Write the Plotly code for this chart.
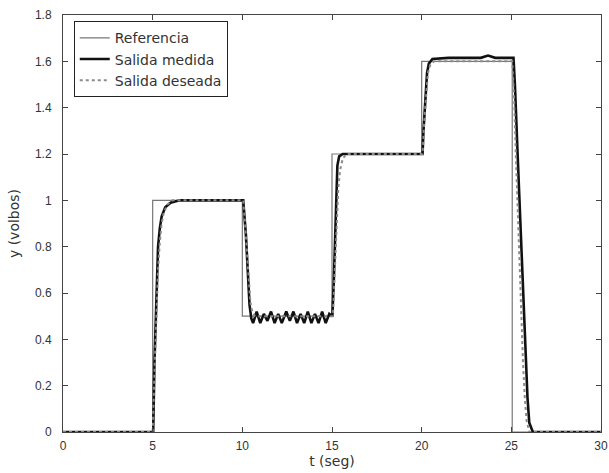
import plotly.graph_objects as go

# Referencia (step input)
t_ref = [0, 5, 5, 10, 10, 15, 15, 20, 20, 25.05, 25.05, 30]
y_ref = [0, 0, 1.0, 1.0, 0.5, 0.5, 1.2, 1.2, 1.6, 1.6, 0, 0]

# Salida medida (measured output)
t_med = [0, 5.03, 5.1, 5.2, 5.3, 5.4, 5.5, 5.7, 6.0, 6.5, 8.0, 10.05,
         10.1, 10.2, 10.3, 10.4, 10.5, 10.6,
         10.8, 11.0, 11.2, 11.4, 11.6, 11.8, 12.0, 12.2, 12.45, 12.65,
         12.85, 13.05, 13.25, 13.45, 13.65, 13.85, 14.05, 14.25, 14.45,
         14.65, 14.85, 15.02,
         15.1, 15.2, 15.3, 15.4, 15.6, 17.5, 20.05,
         20.1, 20.2, 20.3, 20.4, 20.6, 21.5, 23.3, 23.7, 24.1, 25.12,
         25.2, 25.35, 25.5, 25.6, 25.75, 25.9, 26.0, 26.2, 30]
y_med = [0, 0, 0.3, 0.6, 0.8, 0.88, 0.93, 0.97, 0.99, 1.0, 1.0, 1.0,
         0.95, 0.85, 0.7, 0.55, 0.49, 0.47,
         0.52, 0.47, 0.51, 0.48, 0.52, 0.47, 0.51, 0.47, 0.52, 0.48,
         0.52, 0.47, 0.51, 0.47, 0.52, 0.47, 0.51, 0.47, 0.52,
         0.47, 0.51, 0.5,
         0.65, 0.95, 1.15, 1.19, 1.2, 1.2, 1.2,
         1.3, 1.45, 1.55, 1.59, 1.61, 1.615, 1.615, 1.625, 1.615, 1.615,
         1.5, 1.2, 0.9, 0.7, 0.4, 0.15, 0.04, 0.0, 0.0]

# Salida deseada (desired output)
t_des = [0, 5.0, 5.1, 5.2, 5.3, 5.4, 5.5, 5.6, 5.8, 6.1, 10.05,
         10.15, 10.25, 10.35, 10.45, 10.55, 10.7, 15.05,
         15.15, 15.25, 15.35, 15.45, 15.6, 15.8, 20.05,
         20.15, 20.25, 20.35, 20.5, 20.7, 25.05,
         25.15, 25.25, 25.35, 25.45, 25.55, 25.65, 25.75, 25.85, 26.0, 30]
y_des = [0, 0, 0.25, 0.5, 0.7, 0.82, 0.9, 0.94, 0.98, 1.0, 1.0,
         0.9, 0.78, 0.65, 0.56, 0.52, 0.5, 0.5,
         0.7, 0.9, 1.05, 1.13, 1.18, 1.2, 1.2,
         1.35, 1.47, 1.55, 1.59, 1.6, 1.6,
         1.45, 1.2, 0.95, 0.7, 0.5, 0.3, 0.15, 0.05, 0.0, 0.0]

x_ticks = [0, 5, 10, 15, 20, 25, 30]
y_ticks = [0, 0.2, 0.4, 0.6, 0.8, 1.0, 1.2, 1.4, 1.6, 1.8]
y_ticktext = ["0", "0.2", "0.4", "0.6", "0.8", "1", "1.2", "1.4", "1.6", "1.8"]

fig = go.Figure()
fig.add_trace(go.Scatter(x=t_ref, y=y_ref, mode="lines", name="Referencia",
                         line=dict(color="#777777", width=1.2)))
fig.add_trace(go.Scatter(x=t_med, y=y_med, mode="lines", name="Salida medida",
                         line=dict(color="#111111", width=2.6)))
fig.add_trace(go.Scatter(x=t_des, y=y_des, mode="lines", name="Salida deseada",
                         line=dict(color="#8a8a8a", width=2, dash="dot")))

tick_font = dict(size=12, color="#333333", family="Liberation Sans, Arial, sans-serif")
axis_common = dict(showline=True, linecolor="#444444", linewidth=1, mirror="ticks",
                   ticks="inside", ticklen=5, tickcolor="#444444", showgrid=False,
                   zeroline=False, tickfont=tick_font, automargin=False)

fig.update_layout(
    width=609, height=473,
    margin=dict(l=63, r=8, t=15, b=41),
    paper_bgcolor="white", plot_bgcolor="white",
    font=dict(family="Liberation Sans, Arial, sans-serif", size=13, color="#333333"),
    showlegend=True,
    legend=dict(x=0.02, y=0.985, xanchor="left", yanchor="top",
                bgcolor="white", bordercolor="#222222", borderwidth=1,
                font=dict(size=14, color="#333333", family="DejaVu Sans, sans-serif"),
                itemwidth=30, tracegroupgap=0),
    xaxis=dict(range=[0, 30], tickvals=x_ticks, ticktext=[str(v) for v in x_ticks],
               ticklabelstandoff=3,
               title=dict(text="t (seg)", standoff=0,
                          font=dict(size=14, family="DejaVu Sans, sans-serif")),
               **axis_common),
    yaxis=dict(range=[0, 1.8], tickvals=y_ticks, ticktext=y_ticktext,
               ticklabelstandoff=8,
               title=dict(text="y (volbos)", standoff=12,
                          font=dict(size=14, family="DejaVu Sans, sans-serif")),
               **axis_common),
)

fig.write_html("out.html", config={"displayModeBar": False},
               post_script="document.body.style.margin='0';")
